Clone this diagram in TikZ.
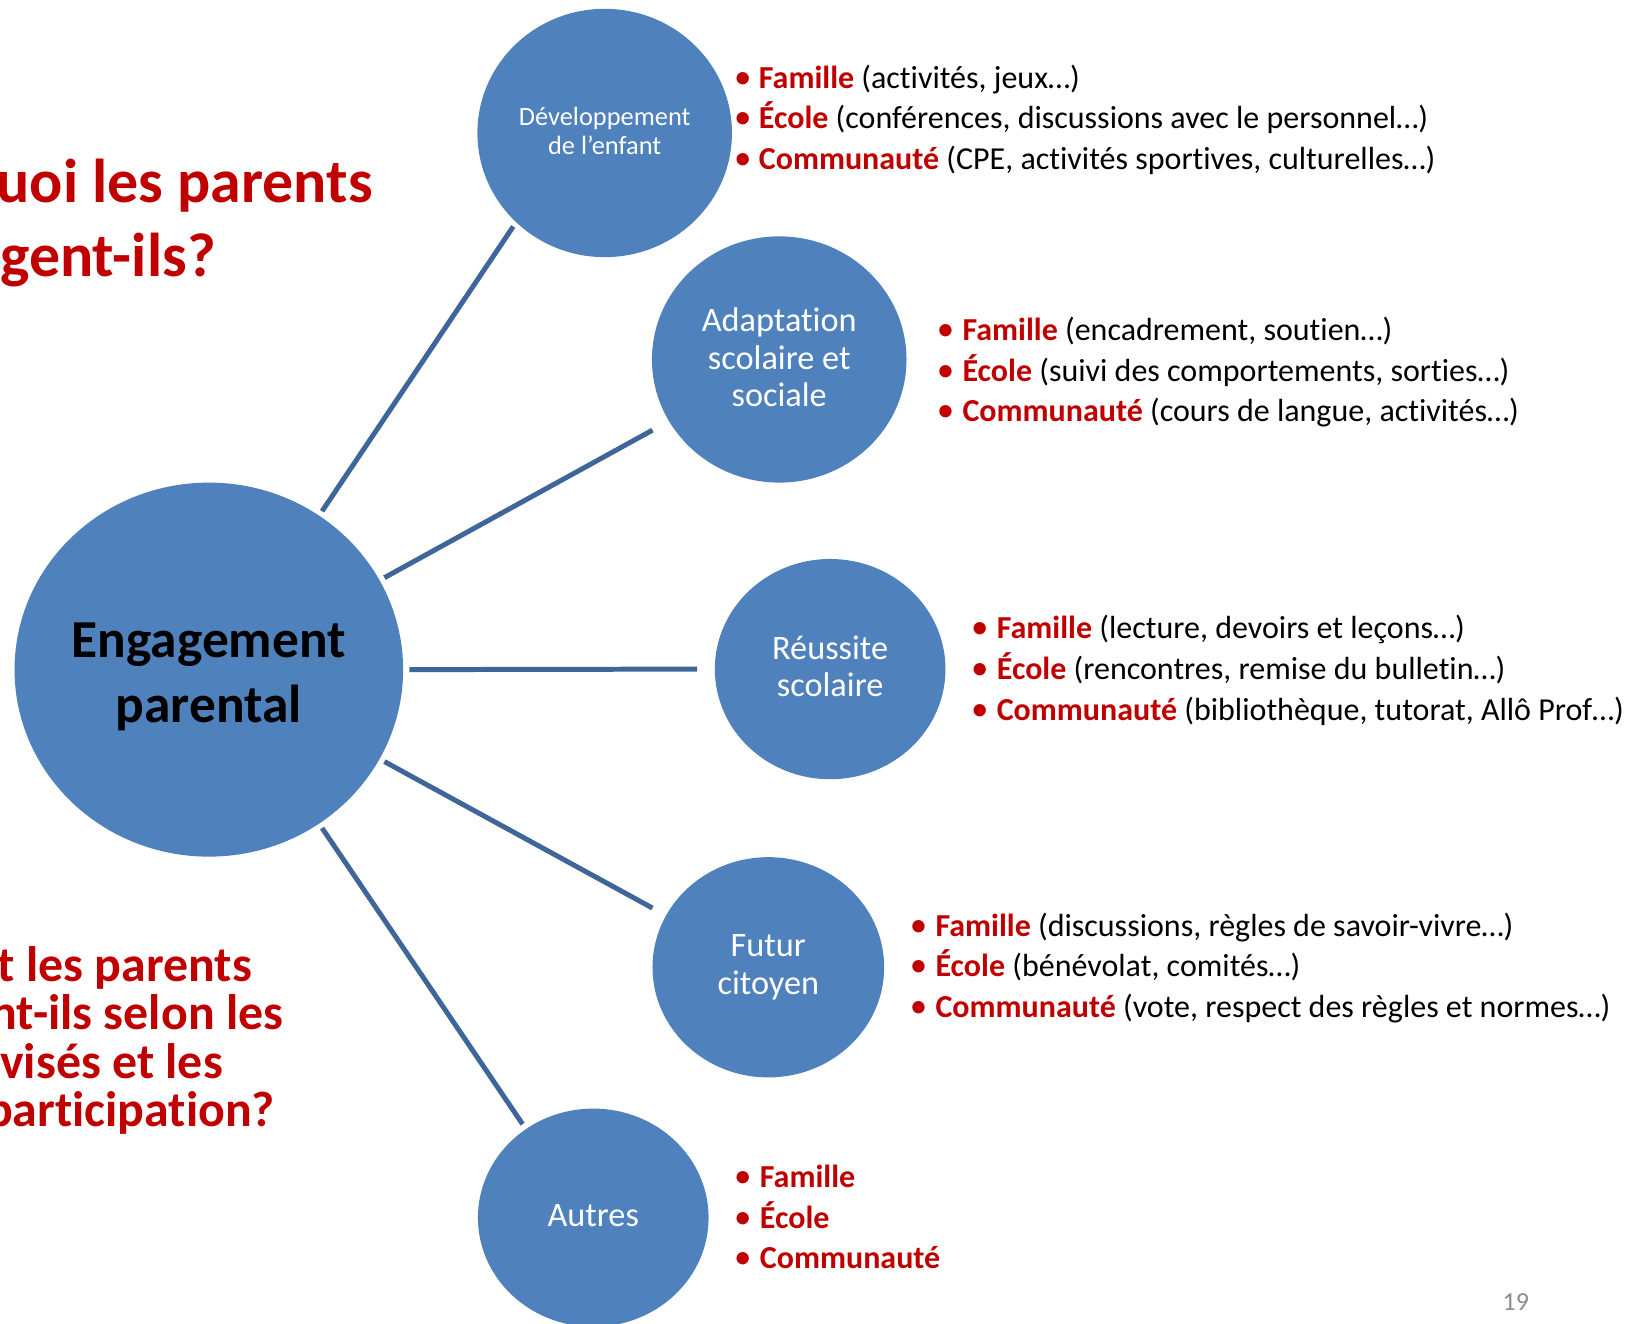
\documentclass[tikz,border=0pt]{standalone}
\usepackage{fontspec}
\setmainfont{Carlito}[Ligatures=NoCommon]
\usetikzlibrary{shapes.geometric,calc}
\definecolor{bleu}{HTML}{4F81BD}
\definecolor{trait}{HTML}{3F6698}
\definecolor{rouge}{HTML}{C00000}
\definecolor{gris}{HTML}{8C8C8C}
\newcommand{\mot}[1]{\textbf{\textcolor{rouge}{#1}}}
\begin{document}
\begin{tikzpicture}[x=0.5pt,y=-0.5pt,
  bulle/.style={ellipse, fill=bleu, draw=none, inner sep=0pt},
  etiq/.style={inner sep=0pt, text=white, align=center},
  petit/.style={font=\fontsize{12.7}{14}\selectfont},
  moyen/.style={font=\fontsize{16.5}{18}\selectfont},
  lien/.style={draw=trait, line width=2.4pt},
  puce/.style={anchor=base, text=rouge, inner sep=0pt, font=\fontsize{16.8}{18}\selectfont},
  ligne/.style={anchor=base west, inner sep=0pt, text=black, font=\fontsize{15.4}{18}\selectfont},
  titre/.style={anchor=base east, inner sep=0pt, text=rouge, font=\bfseries\fontsize{29.8}{36}\selectfont},
  question/.style={anchor=base east, inner sep=0pt, text=rouge, font=\bfseries\fontsize{24}{24}\selectfont}
]
\useasboundingbox (0,0) rectangle (1565,1273.4);
\clip (0,0) rectangle (1565,1273.4);

% titles (cut at the left edge)
\node[titre] (t1) at (359,195) {uoi les parents};
\node[titre] (t2) at (208,266) {gent-ils?};
\node[question] (q1) at (243,945) {t les parents};
\node[question] (q2) at (273,990.5) {nt-ils selon les};
\node[question] (q3) at (215,1038) {visés et les};
\node[question] (q4) at (265,1084.5) {participation?};

% circles
\node[bulle, minimum width=187pt, minimum height=180pt] (eng) at (201,644.5) {};
\node[bulle, minimum width=122.5pt, minimum height=119.5pt] (dev) at (582,128) {};
\node[bulle, minimum width=122.5pt, minimum height=118.5pt] (ada) at (750,346) {};
\node[bulle, minimum width=111pt, minimum height=106pt] (reu) at (799,644) {};
\node[bulle, minimum width=111.5pt, minimum height=106pt] (fut) at (739.5,931) {};
\node[bulle, minimum width=111pt, minimum height=105pt] (aut) at (571,1172) {};

% circle labels
\node[etiq, text=black, font=\bfseries\fontsize{25.7}{31}\selectfont] (engt) at ($(eng.center)+(0,7)$) {Engagement\\parental};
\node[etiq, petit] (devt) at ($(dev.center)+(0,-2)$) {Développement\\de l’enfant};
\node[etiq, moyen] (adat) at ($(ada.center)+(0,-2)$) {Adaptation\\scolaire et\\sociale};
\node[etiq, moyen] (reut) at ($(reu.center)+(0,-2.5)$) {Réussite\\scolaire};
\node[etiq, moyen] (futt) at ($(fut.center)+(0,0)$) {Futur\\citoyen};
\node[etiq, moyen] (autt) at ($(aut.center)+(0,-2)$) {Autres};

% connectors
\draw[lien] ($(eng.center)+(109,-152.5)$) -- ($(dev.center)+(-88,90)$);
\draw[lien] ($(eng.center)+(169,-88.5)$) -- ($(ada.center)+(-122,68)$);
\draw[lien] ($(eng.center)+(193,0)$) -- ($(reu.center)+(-128,0)$);
\draw[lien] ($(eng.center)+(169,88.5)$) -- ($(fut.center)+(-111.5,-57)$);
\draw[lien] ($(eng.center)+(109,152.5)$) -- ($(aut.center)+(-68,-90)$);

% group 1
\node[puce] (p1a) at (715,85) {•};
\node[ligne] (l1a) at (730,85) {\mot{Famille} (activités, jeux…)};
\node[puce] (p1b) at (715,124) {•};
\node[ligne] (l1b) at (730,124) {\mot{École} (conférences, discussions avec le personnel…)};
\node[puce] (p1c) at (715,163) {•};
\node[ligne] (l1c) at (730,163) {\mot{Communauté} (CPE, activités sportives, culturelles…)};
% group 2
\node[puce] (p2a) at (910,328) {•};
\node[ligne] (l2a) at (926,328) {\mot{Famille} (encadrement, soutien…)};
\node[puce] (p2b) at (910,367) {•};
\node[ligne] (l2b) at (926,367) {\mot{École} (suivi des comportements, sorties…)};
\node[puce] (p2c) at (910,406) {•};
\node[ligne] (l2c) at (926,406) {\mot{Communauté} (cours de langue, activités…)};
% group 3
\node[puce] (p3a) at (943,615) {•};
\node[ligne] (l3a) at (959,615) {\mot{Famille} (lecture, devoirs et leçons…)};
\node[puce] (p3b) at (943,654) {•};
\node[ligne] (l3b) at (959,654) {\mot{École} (rencontres, remise du bulletin…)};
\node[puce] (p3c) at (943,693) {•};
\node[ligne] (l3c) at (959,693) {\mot{Communauté} (bibliothèque, tutorat, Allô Prof…)};
% group 4
\node[puce] (p4a) at (884,901) {•};
\node[ligne] (l4a) at (900,901) {\mot{Famille} (discussions, règles de savoir-vivre…)};
\node[puce] (p4b) at (884,940) {•};
\node[ligne] (l4b) at (900,940) {\mot{École} (bénévolat, comités…)};
\node[puce] (p4c) at (884,979) {•};
\node[ligne] (l4c) at (900,979) {\mot{Communauté} (vote, respect des règles et normes…)};
% group 5
\node[puce] (p5a) at (715,1143) {•};
\node[ligne] (l5a) at (731,1143) {\mot{Famille}};
\node[puce] (p5b) at (715,1182) {•};
\node[ligne] (l5b) at (731,1182) {\mot{École}};
\node[puce] (p5c) at (715,1221) {•};
\node[ligne] (l5c) at (731,1221) {\mot{Communauté}};

% page number
\node[text=gris, inner sep=0pt, font=\fontsize{12.5}{13}\selectfont] (num) at (1459,1253) {19};
\end{tikzpicture}
\end{document}
